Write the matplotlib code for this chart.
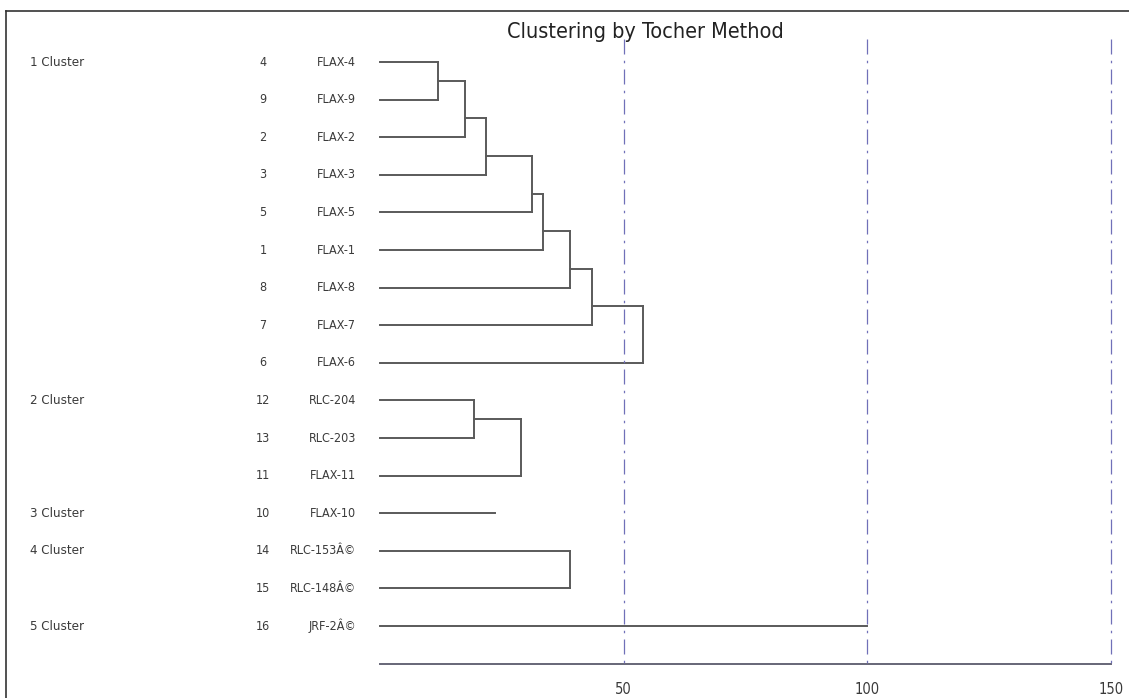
import matplotlib
matplotlib.use('Agg')
import matplotlib.pyplot as plt
from matplotlib import transforms
from matplotlib.lines import Line2D

# 字体：压缩版无衬线，和原图的窄体接近
plt.rcParams['font.family'] = ['DejaVu Sans']
plt.rcParams['font.stretch'] = 'condensed'

# 数据：每个聚类的成员（自上而下）和逐步合并的距离
cluster_names = ['1 Cluster', '2 Cluster', '3 Cluster', '4 Cluster', '5 Cluster']
cluster_ids = [
    [4, 9, 2, 3, 5, 1, 8, 7, 6],
    [12, 13, 11],
    [10],
    [14, 15],
    [16],
]
cluster_labels = [
    ['FLAX-4', 'FLAX-9', 'FLAX-2', 'FLAX-3', 'FLAX-5', 'FLAX-1', 'FLAX-8', 'FLAX-7', 'FLAX-6'],
    ['RLC-204', 'RLC-203', 'FLAX-11'],
    ['FLAX-10'],
    ['RLC-153Â©', 'RLC-148Â©'],
    ['JRF-2Â©'],
]
# 合并距离（单成员聚类为其线长）
merge_heights = [
    [12.0, 17.4, 21.8, 31.1, 33.5, 39.0, 43.6, 54.0],
    [19.3, 29.0],
    [23.6],
    [39.0],
    [100.0],
]
x_ticks = [50, 100, 150]

W, H = 1129, 698
fig = plt.figure(figsize=(W / 100, H / 100), dpi=100)
ax = fig.add_axes([0, 0, 1, 1])
ax.set_axis_off()

# 坐标映射：x=0 在 380 像素处，每单位 4.873 像素；行间距 37.6 像素
px_unit = 4.873
ax.set_xlim(-380 / px_unit, (W - 380) / px_unit)
row_px = 37.6
ax.set_ylim((H - 62) / row_px, -62 / row_px)

line_c = '#5a5a5a'
txt_c = '#3a3a3a'
lw = 1.4
trans = transforms.blended_transform_factory(ax.transAxes, ax.transData)

row = 0
for name, ids, labels, hs in zip(cluster_names, cluster_ids, cluster_labels, merge_heights):
    ax.text(30 / W, row, name, transform=trans, ha='left', va='center', fontsize=9.5, color=txt_c)
    for k, (i, lab) in enumerate(zip(ids, labels)):
        ax.text(263 / W, row + k, str(i), transform=trans, ha='center', va='center', fontsize=9, color=txt_c)
        ax.text(356 / W, row + k, lab, transform=trans, ha='right', va='center', fontsize=9, color=txt_c)
    # 第一个成员
    ax.plot([0, hs[0]], [row, row], color=line_c, lw=lw)
    node_y = row
    node_h = 0
    for k in range(1, len(ids)):
        h = hs[k - 1]
        y = row + k
        if k > 1:
            ax.plot([node_h, h], [node_y, node_y], color=line_c, lw=lw)
        ax.plot([0, h], [y, y], color=line_c, lw=lw)
        ax.plot([h, h], [node_y, y], color=line_c, lw=lw)
        node_y = y - 0.5
        node_h = h
    row += len(ids)

# 底部坐标轴
axis_y = row
ax.plot([0, max(x_ticks)], [axis_y, axis_y], color='#666677', lw=1.4)
for t in x_ticks:
    ax.plot([t, t], [-0.6, axis_y + 0.12], color='#7070b8', lw=0.9,
            linestyle=(0, (12, 5, 2, 5)))
    ax.text(t, axis_y + 0.68, str(t), ha='center', va='center', fontsize=10.5, color=txt_c)

ax.text(645 / W, 1 - 32 / H, 'Clustering by Tocher Method', transform=fig.transFigure,
        ha='center', va='center', fontsize=15.5, color='#222222')

# 外框（上边与左边）
fig.add_artist(Line2D([6 / W, 1], [1 - 11 / H, 1 - 11 / H], color='#333333', lw=1.2))
fig.add_artist(Line2D([6 / W, 6 / W], [0, 1 - 11 / H], color='#333333', lw=1.2))

fig.savefig('out.png', dpi=100)
